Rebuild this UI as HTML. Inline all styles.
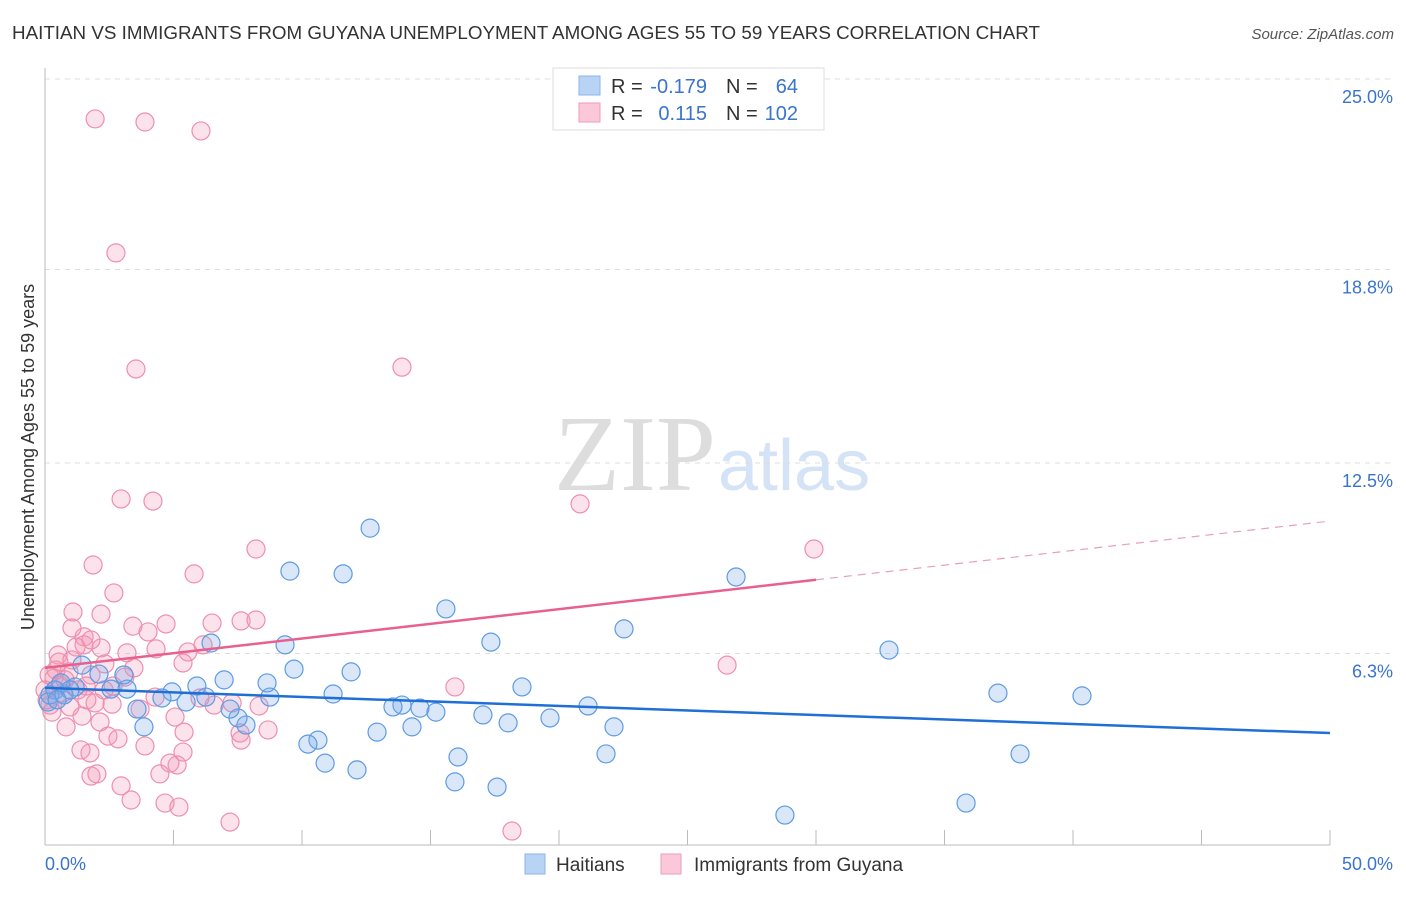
<!DOCTYPE html>
<html><head><meta charset="utf-8"><style>
body{margin:0;background:#fff;font-family:"Liberation Sans",sans-serif;}
svg text{font-family:"Liberation Sans",sans-serif;}
</style></head><body>
<svg id="chart" width="1406" height="892" xmlns="http://www.w3.org/2000/svg">
<text x="12" y="39" font-size="18" fill="#333" textLength="1028" lengthAdjust="spacingAndGlyphs">HAITIAN VS IMMIGRANTS FROM GUYANA UNEMPLOYMENT AMONG AGES 55 TO 59 YEARS CORRELATION CHART</text>
<text x="1394" y="39" font-size="15" fill="#555" text-anchor="end" font-style="italic">Source: ZipAtlas.com</text>
<text x="716" y="490" font-size="108" text-anchor="end" fill="#ddd" style="font-family:'Liberation Serif',serif">ZIP</text>
<text x="718" y="490" font-size="72" fill="#d4e3f5">atlas</text>
<text transform="translate(34,457) rotate(-90)" font-size="18" fill="#333" text-anchor="middle">Unemployment Among Ages 55 to 59 years</text>
<g id="grid"></g><g id="axes"></g><g id="pink"></g><g id="blue"></g><g id="lines"></g>
<g>
<rect x="553" y="68" width="271" height="62" fill="#fff" stroke="#ddd"/>
<rect x="579" y="76" width="21" height="19" fill="#b9d3f5" stroke="#8ab4ea"/>
<rect x="579" y="103" width="21" height="19" fill="#fac8d8" stroke="#f09ab7"/>
<text x="611" y="93" font-size="20" fill="#333">R = </text><text x="707" y="93" font-size="20" fill="#3a74cc" text-anchor="end">-0.179</text>
<text x="726" y="93" font-size="20" fill="#333">N = </text><text x="798" y="93" font-size="20" fill="#3a74cc" text-anchor="end">64</text>
<text x="611" y="120" font-size="20" fill="#333">R = </text><text x="707" y="120" font-size="20" fill="#3a74cc" text-anchor="end">0.115</text>
<text x="726" y="120" font-size="20" fill="#333">N = </text><text x="798" y="120" font-size="20" fill="#3a74cc" text-anchor="end">102</text>
</g>
<g>
<rect x="525" y="854" width="20" height="20" fill="#b9d3f5" stroke="#8ab4ea"/>
<text x="556" y="871" font-size="19" fill="#333">Haitians</text>
<rect x="661" y="854" width="20" height="20" fill="#fac8d8" stroke="#f09ab7"/>
<text x="694" y="871" font-size="19" fill="#333">Immigrants from Guyana</text>
</g>
</svg>
<script>
const yTicks=[25.0,18.8,12.5,6.3];
const yTickLabels=["25.0%","18.8%","12.5%","6.3%"];
const xTicks=[0,5,10,15,20,25,30,35,40,45,50];
const blueX=[9.53,11.60,12.65,15.60,17.35,18.56,22.53,26.89,32.84,37.08,40.35,37.94,35.84,28.79,21.83,22.14,21.13,19.65,18.02,17.04,16.07,15.95,17.59,15.21,14.59,13.89,13.54,14.28,12.92,12.14,11.91,11.21,10.90,10.62,10.23,9.69,9.34,8.75,8.64,7.82,7.51,7.20,6.97,6.46,6.26,5.91,5.49,4.94,4.55,3.85,3.58,3.19,3.07,2.57,2.10,1.44,1.17,0.62,0.39,0.19,0.12,0.74,0.97,0.47];
const blueY=[8.98,8.89,10.38,7.75,6.67,5.21,7.10,8.79,6.41,5.01,4.92,3.03,1.43,1.04,3.03,3.91,4.59,4.20,4.04,4.30,2.93,2.12,1.95,4.39,4.52,4.62,4.56,3.91,3.74,2.51,5.70,4.98,2.73,3.48,3.35,5.79,6.58,4.88,5.34,3.97,4.20,4.49,5.44,6.64,4.88,5.24,4.72,5.05,4.85,3.91,4.49,5.14,5.60,5.14,5.63,5.92,5.21,5.34,5.11,4.95,4.72,4.95,5.11,4.79];
const pinkX=[1.95,3.89,6.07,2.76,3.54,13.89,2.96,4.20,20.82,8.21,29.92,1.87,5.80,2.68,1.09,2.18,3.42,4.71,6.50,7.63,8.21,4.01,1.52,1.05,0.51,4.32,5.56,6.15,3.19,2.18,1.52,1.79,1.21,5.37,3.46,2.33,1.79,0.93,0.43,26.54,15.95,6.58,7.28,8.33,8.68,4.28,5.06,6.03,3.70,1.95,1.44,0.97,0.70,0.19,0.27,1.63,2.61,3.11,2.14,0.82,2.45,2.84,3.89,5.37,1.40,1.75,4.47,5.14,4.86,1.79,2.02,2.96,3.35,4.67,5.21,7.20,18.17,7.63,0.16,0.35,0.58,0.78,0.00,0.08,0.54,1.05,1.28,1.60,2.30,2.65,7.59,5.41];
const pinkY=[23.70,23.60,23.31,19.34,15.56,15.62,11.33,11.26,11.17,9.70,9.70,9.18,8.89,8.27,7.65,7.58,7.19,7.26,7.29,7.36,7.39,7.00,6.84,7.13,6.25,6.45,6.35,6.58,6.32,6.48,6.58,6.74,6.51,5.99,5.83,5.96,5.60,5.70,5.76,5.92,5.21,4.62,4.69,4.59,3.81,4.88,4.23,4.85,4.49,4.69,4.26,4.56,5.01,4.62,4.39,4.79,4.65,5.53,4.07,3.91,3.61,3.52,3.29,3.09,3.16,3.06,2.38,2.67,2.73,2.31,2.38,1.99,1.53,1.43,1.30,0.81,0.52,3.48,5.60,5.50,5.27,5.44,5.11,4.79,6.02,6.09,5.11,5.24,5.11,5.24,3.71,3.74];
const blueTrend=[5.18,3.71];   // y at x=0, x=50
const pinkTrend=[5.83,10.61];  // y at x=0, x=50
const pinkSolidEnd=30;

const NS="http://www.w3.org/2000/svg";
const X0=45,X1=1330,YB=847,PX=192/6.25;
function sx(v){return X0+(X1-X0)*v/50;}
function sy(v){return YB-v*PX;}
function mk(tag,attrs,parent){const e=document.createElementNS(NS,tag);for(const k in attrs)e.setAttribute(k,attrs[k]);document.getElementById(parent).appendChild(e);return e;}

yTicks.forEach((t,i)=>{
  const g=mk('line',{x1:X0,x2:1393,y1:sy(t),y2:sy(t),stroke:'#ddd','stroke-dasharray':'5,5'},'grid');
  
  
  const l=mk('text',{x:1393,y:sy(t)+24,'font-size':18,fill:'#3a74cc','text-anchor':'end'},'grid');
  l.textContent=yTickLabels[i];
  
  
});
const ya=mk('line',{x1:X0,x2:X0,y1:68,y2:845,stroke:'#bbb'},'axes');


const xa=mk('line',{x1:X0,x2:X1,y1:845,y2:845,stroke:'#bbb'},'axes');


xTicks.forEach(t=>{
  const tk=mk('line',{x1:sx(t),x2:sx(t),y1:830,y2:845,stroke:'#bbb'},'axes');
  
  
});
const xl0=mk('text',{x:45,y:870,'font-size':18,fill:'#3a74cc'},'axes');xl0.textContent='0.0%';


const xl1=mk('text',{x:1393,y:870,'font-size':18,fill:'#3a74cc','text-anchor':'end'},'axes');xl1.textContent='50.0%';



pinkX.forEach((x,i)=>{
  const c=mk('circle',{cx:sx(x),cy:sy(pinkY[i]),r:9,fill:'rgba(244,150,180,0.28)',stroke:'#ee8fb0','stroke-width':1.2},'pink');
  
  
});
blueX.forEach((x,i)=>{
  const c=mk('circle',{cx:sx(x),cy:sy(blueY[i]),r:9,fill:'rgba(120,170,235,0.28)',stroke:'#5d9be3','stroke-width':1.2},'blue');
  
  
});
const bl=mk('line',{x1:sx(0),y1:sy(blueTrend[0]),x2:sx(50),y2:sy(blueTrend[1]),stroke:'#1f6fd6','stroke-width':2.5},'lines');


const pm=pinkTrend[0]+(pinkTrend[1]-pinkTrend[0])*pinkSolidEnd/50;
const pl=mk('line',{x1:sx(0),y1:sy(pinkTrend[0]),x2:sx(pinkSolidEnd),y2:sy(pm),stroke:'#e8608e','stroke-width':2.5},'lines');


const pd=mk('line',{x1:sx(pinkSolidEnd),y1:sy(pm),x2:sx(50),y2:sy(pinkTrend[1]),stroke:'#e8a0b8','stroke-width':1.2,'stroke-dasharray':'8,6'},'lines');


</script>
</body></html>
